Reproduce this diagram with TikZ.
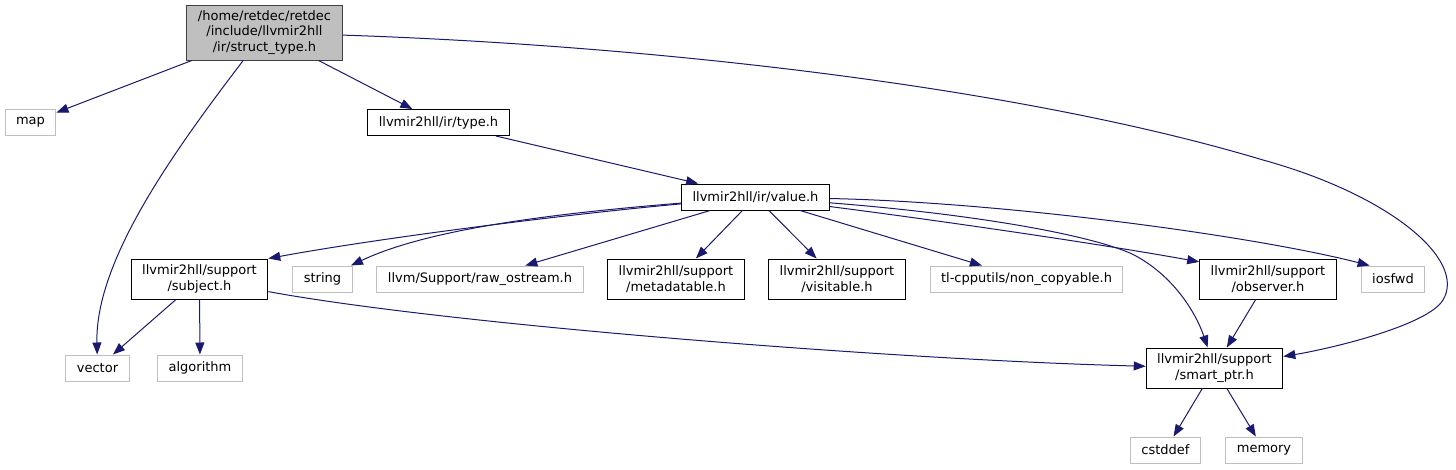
\documentclass[tikz,border=0pt]{standalone}
\usepackage{fontspec}
\setmainfont{DejaVu Sans}
\usepackage{tikz}
\usetikzlibrary{arrows.meta}
\usepackage{xcolor}
\definecolor{edgeblue}{HTML}{191970}
\definecolor{sysgray}{HTML}{BFBFBF}
\definecolor{rootline}{HTML}{404040}

\begin{document}
\begin{tikzpicture}[x=1pt, y=-1pt,
        font=\fontsize{13}{15.5}\selectfont,
        hdr/.style={draw=black, line width=1pt, inner xsep=11pt, inner ysep=0pt, minimum height=26pt, align=center},
        hdrtwo/.style={hdr, minimum height=40pt},
        sys/.style={hdr, draw=sysgray},
        dep/.style={draw=edgeblue, line width=1pt, -{Triangle[length=12pt,width=9pt]}}]
        \useasboundingbox (0,0) rectangle (1456,469);

        % The file itself
        \node[hdr, fill=sysgray, draw=rootline, minimum height=55pt] (root) at (264.5,32.5) {/home/retdec/retdec\\/include/llvmir2hll\\/ir/struct\_type.h};

        % First level
        \node[sys] (map)  at (30.5,122.5)  {map};
        \node[hdr] (type) at (438.5,122.5) {llvmir2hll/ir/type.h};
        \node[hdr] (value) at (755.5,197)  {llvmir2hll/ir/value.h};

        % Row under value.h
        \node[hdrtwo] (subject)  at (199.5,279) {llvmir2hll/support\\/subject.h};
        \node[sys]    (string)   at (322.5,279) {string};
        \node[sys]    (raw)      at (480,279)   {llvm/Support/raw\_ostream.h};
        \node[hdrtwo] (meta)     at (676,279)   {llvmir2hll/support\\/metadatable.h};
        \node[hdrtwo] (visit)    at (837,279)   {llvmir2hll/support\\/visitable.h};
        \node[sys]    (noncopy)  at (1026.5,279) {tl-cpputils/non\_copyable.h};
        \node[hdrtwo] (observer) at (1268,279)  {llvmir2hll/support\\/observer.h};
        \node[sys]    (iosfwd)   at (1393,279)  {iosfwd};

        % Bottom rows
        \node[sys]    (vector)   at (97.5,368)   {vector};
        \node[sys]    (algo)     at (200,368)    {algorithm};
        \node[hdrtwo] (smartptr) at (1214.5,368) {llvmir2hll/support\\/smart\_ptr.h};
        \node[sys]    (cstddef)  at (1165.5,450) {cstddef};
        \node[sys]    (memory)   at (1264,450)   {memory};

        % Includes of the file
        \draw[dep] (root) -- (map);
        \draw[dep] (root) -- (type);
        \draw[dep] (root) .. controls (175,150) and (95,260) .. (vector);
        \draw[dep] (root) .. controls (641,45) and (1013,85) .. (1263,160)
            .. controls (1390,195) and (1467,260) .. (1443,300)
            .. controls (1428,325) and (1334,348) .. (smartptr);
        \draw[dep] (type) -- (value);

        % Includes of value.h
        \draw[dep] (value) .. controls (560,215) and (380,238) .. (subject.north east);
        \draw[dep] (value) .. controls (560,213) and (430,228) .. (string);
        \draw[dep] (value) -- (raw);
        \draw[dep] (value) -- (meta);
        \draw[dep] (value) -- (visit);
        \draw[dep] (value) -- (noncopy);
        \draw[dep] (value) .. controls (950,222) and (1100,244) .. (observer.166);
        \draw[dep] (value) .. controls (1000,202) and (1250,235) .. (iosfwd.150);
        \draw[dep] (value) .. controls (960,213) and (1080,232) .. (1130,253)
            .. controls (1170,272) and (1195,310) .. (smartptr);

        % The rest
        \draw[dep] (subject) -- (vector);
        \draw[dep] (subject) -- (algo);
        \draw[dep] (subject) .. controls (450,325) and (900,360) .. (smartptr);
        \draw[dep] (observer) -- (smartptr);
        \draw[dep] (smartptr) -- (cstddef);
        \draw[dep] (smartptr) -- (memory);
    \end{tikzpicture}
\end{document}
